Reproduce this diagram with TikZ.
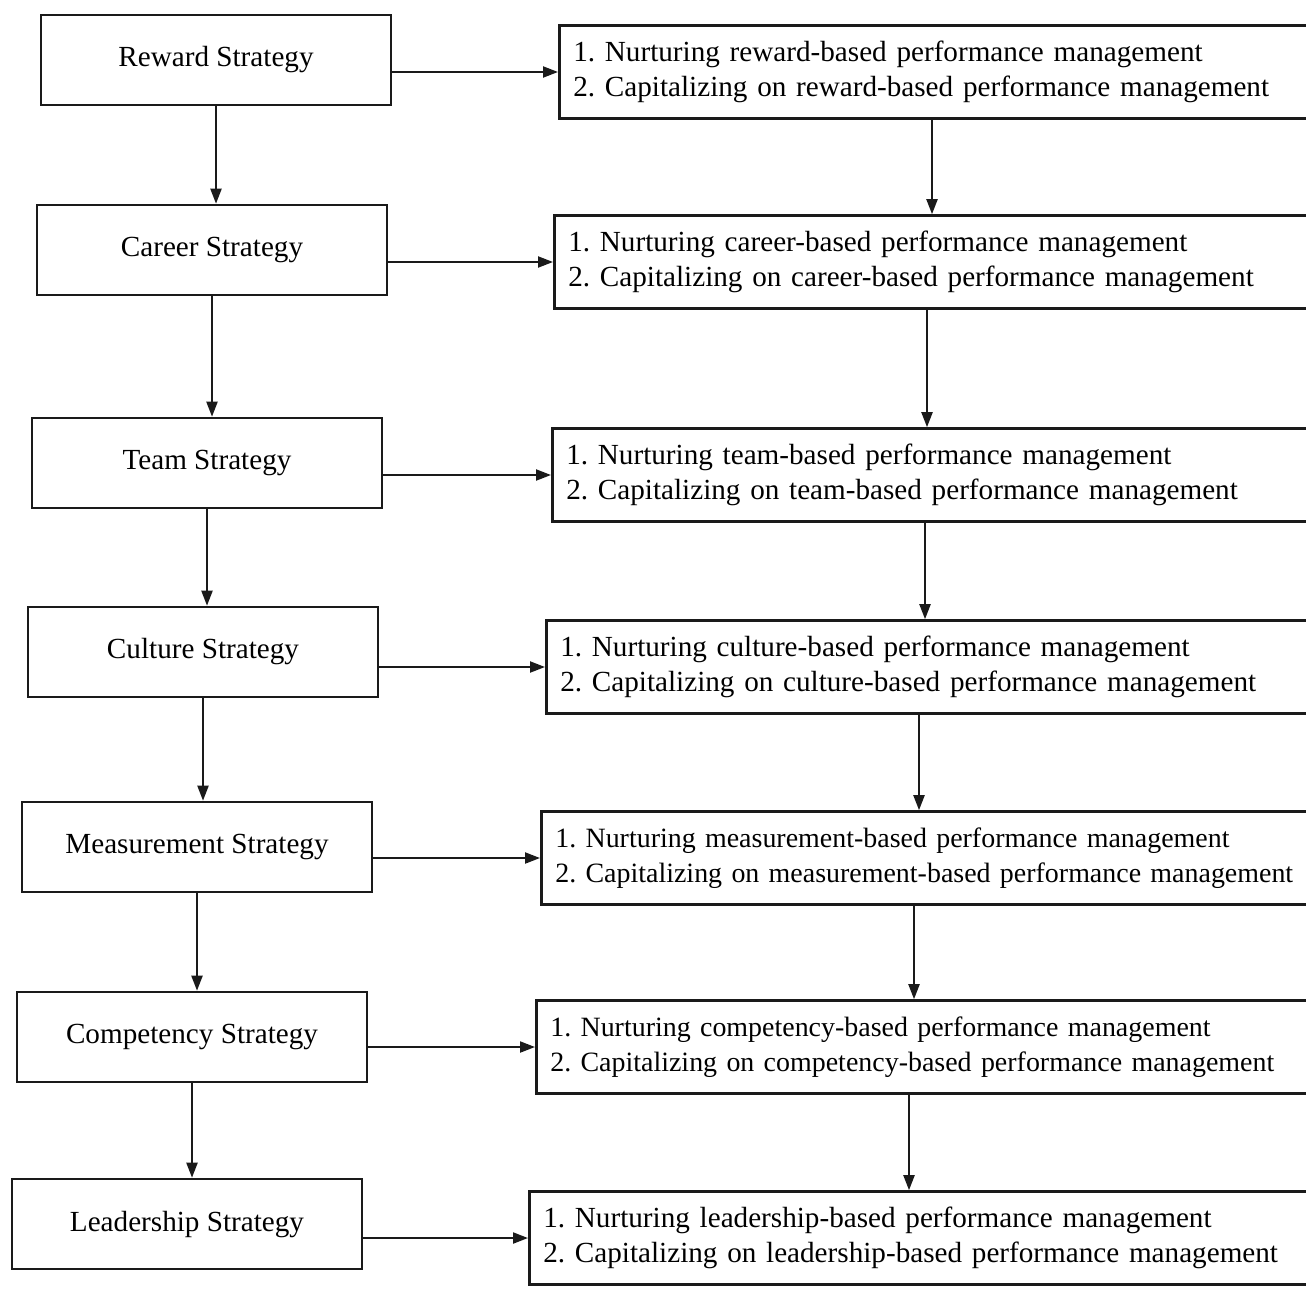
\documentclass[tikz,border=0pt]{standalone}
\usepackage{fontspec}
\setmainfont{Liberation Serif}
\usepackage{xcolor}
\usepackage{tikz}
\usetikzlibrary{
  arrows.meta,
  calc
}
\definecolor{PageWhite}{HTML}{FFFFFF}
\definecolor{InkBlack}{HTML}{1A1A1A}
\frenchspacing
\tikzset{
  strategy/.style={
    draw=InkBlack,
    line width=0.75pt,
    align=center,
    minimum height=0.9cm,
    minimum width=3.5cm,
    font=\fontsize{8.3}{10}\selectfont
  },
  practice/.style={
    draw=InkBlack,
    line width=0.75pt,
    anchor=west,
    align=left,
    minimum height=0.93cm,
    text width=8cm,
    inner xsep=0.14cm,
    font=\fontsize{8.3}{10}\selectfont
  },
  narrow/.style={
    font=\fontsize{7.95}{10}\selectfont
  },
  connection/.style={
    -{Triangle[length=1.5mm,width=1.1mm]},
    line width=0.6pt,
    draw=InkBlack
  }
}

\begin{document}
\begin{tikzpicture}

  \useasboundingbox[fill=PageWhite] (0,0) rectangle (13.06,-13.02);

  % left column
  \node[strategy] (reward) at (2.16,-0.60) {Reward Strategy};
  \node[strategy] (career) at (2.12,-2.50) {Career Strategy};
  \node[strategy] (team) at (2.07,-4.63) {Team Strategy};
  \node[strategy] (culture) at (2.03,-6.52) {Culture Strategy};
  \node[strategy] (measurement) at (1.97,-8.47) {Measurement Strategy};
  \node[strategy] (competency) at (1.92,-10.37) {Competency Strategy};
  \node[strategy] (leadership) at (1.87,-12.24) {Leadership Strategy};

  % right column
  \node[practice] (rewardpm) at (5.58,-0.72) {
    1. Nurturing reward-based performance management\\
    2. Capitalizing on reward-based performance management
  };
  \node[practice] (careerpm) at (5.53,-2.62) {
    1. Nurturing career-based performance management\\
    2. Capitalizing on career-based performance management
  };
  \node[practice] (teampm) at (5.51,-4.75) {
    1. Nurturing team-based performance management\\
    2. Capitalizing on team-based performance management
  };
  \node[practice] (culturepm) at (5.45,-6.67) {
    1. Nurturing culture-based performance management\\
    2. Capitalizing on culture-based performance management
  };
  \node[practice,narrow] (measurementpm) at (5.40,-8.58) {
    1. Nurturing measurement-based performance management\\
    2. Capitalizing on measurement-based performance management
  };
  \node[practice,narrow] (competencypm) at (5.35,-10.47) {
    1. Nurturing competency-based performance management\\
    2. Capitalizing on competency-based performance management
  };
  \node[practice] (leadershippm) at (5.28,-12.38) {
    1. Nurturing leadership-based performance management\\
    2. Capitalizing on leadership-based performance management
  };

  % strategy to practice
  \draw[connection] (reward.east |- rewardpm.west) -- (rewardpm.west);
  \draw[connection] (career.east |- careerpm.west) -- (careerpm.west);
  \draw[connection] (team.east |- teampm.west) -- (teampm.west);
  \draw[connection] (culture.east |- culturepm.west) -- (culturepm.west);
  \draw[connection] (measurement.east |- measurementpm.west) -- (measurementpm.west);
  \draw[connection] (competency.east |- competencypm.west) -- (competencypm.west);
  \draw[connection] (leadership.east |- leadershippm.west) -- (leadershippm.west);

  % down the left column
  \draw[connection] (reward.south) -- (reward.south |- career.north);
  \draw[connection] (career.south) -- (career.south |- team.north);
  \draw[connection] (team.south) -- (team.south |- culture.north);
  \draw[connection] (culture.south) -- (culture.south |- measurement.north);
  \draw[connection] (measurement.south) -- (measurement.south |- competency.north);
  \draw[connection] (competency.south) -- (competency.south |- leadership.north);

  % down the right column
  \draw[connection] ([xshift=3.74cm]rewardpm.south west) -- ([xshift=3.74cm]rewardpm.south west |- careerpm.north);
  \draw[connection] ([xshift=3.74cm]careerpm.south west) -- ([xshift=3.74cm]careerpm.south west |- teampm.north);
  \draw[connection] ([xshift=3.74cm]teampm.south west) -- ([xshift=3.74cm]teampm.south west |- culturepm.north);
  \draw[connection] ([xshift=3.74cm]culturepm.south west) -- ([xshift=3.74cm]culturepm.south west |- measurementpm.north);
  \draw[connection] ([xshift=3.74cm]measurementpm.south west) -- ([xshift=3.74cm]measurementpm.south west |- competencypm.north);
  \draw[connection] ([xshift=3.74cm]competencypm.south west) -- ([xshift=3.74cm]competencypm.south west |- leadershippm.north);

\end{tikzpicture}
\end{document}
